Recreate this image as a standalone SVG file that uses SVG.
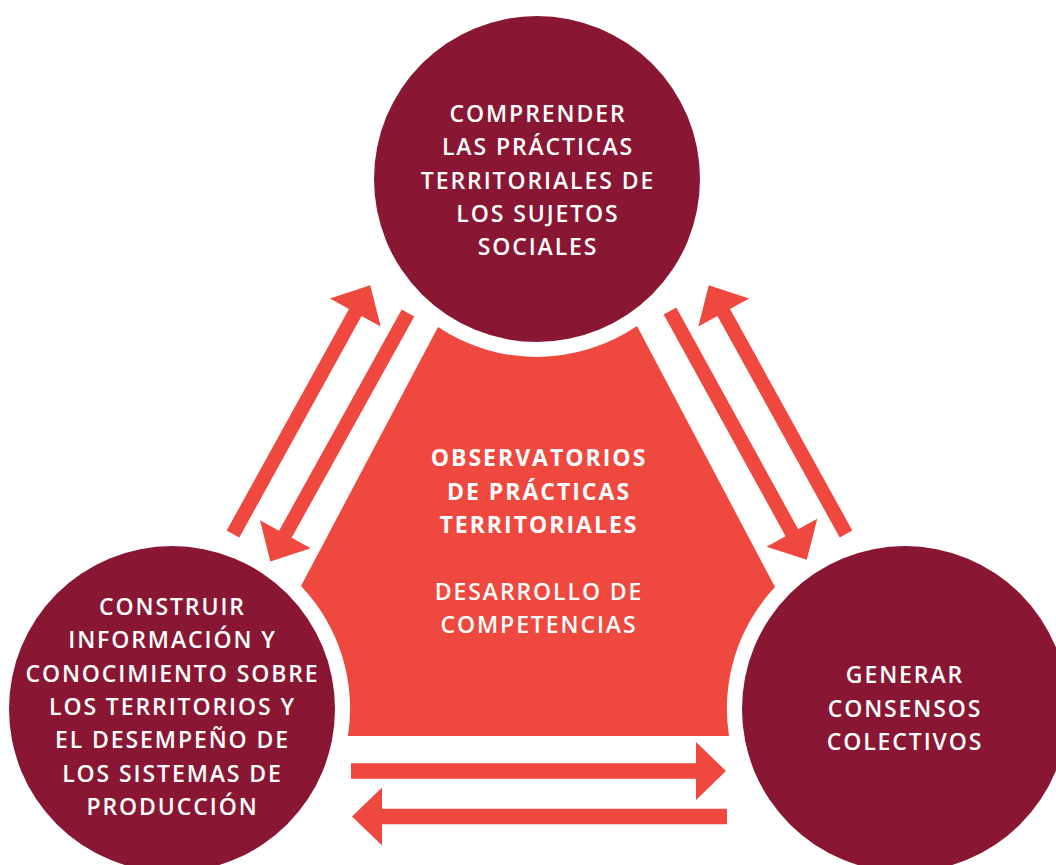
<svg xmlns="http://www.w3.org/2000/svg" width="1056" height="865" viewBox="0 0 1056 865">
  <style>
    .circ { fill: #891733; }
    .center { fill: #EF483E; }
    .arrow { fill: #EF483E; }
    .t { font-family: "Open Sans", "Liberation Sans", sans-serif; font-size: 23px; font-weight: 600; fill: #ffffff; text-anchor: middle; letter-spacing: 1.9px; }
    .tb { font-family: "Open Sans", "Liberation Sans", sans-serif; font-size: 23px; font-weight: bold; fill: #ffffff; text-anchor: middle; letter-spacing: 2px; }
  </style>
  <defs>
    <polygon id="diag" points="0,-7.2 253,-7.2 253,-29 284,0 253,29 253,7.2 0,7.2"/>
    <polygon id="horiz" points="0,-7.8 345,-7.8 345,-29 375,0 345,29 345,7.8 0,7.8"/>
  </defs>
  <rect width="1056" height="865" fill="#ffffff"/>

  <g id="center-node">
    <path class="center" d="M 438 327 A 178 178 0 0 0 637 326 L 775 587 A 178 178 0 0 0 729 736 L 348 736 A 178 178 0 0 0 301 586 Z"/>
    <text class="tb" x="539" y="466">OBSERVATORIOS</text>
    <text class="tb" x="539" y="499.5">DE PRÁCTICAS</text>
    <text class="tb" x="539" y="533">TERRITORIALES</text>
    <text class="t" x="539" y="600">DESARROLLO DE</text>
    <text class="t" x="539" y="633">COMPETENCIAS</text>
  </g>

  <g id="node-top">
    <circle class="circ" cx="537" cy="179" r="163"/>
    <text class="t" x="538" y="122">COMPRENDER</text>
    <text class="t" x="538" y="155.3">LAS PRÁCTICAS</text>
    <text class="t" x="538" y="188.6">TERRITORIALES DE</text>
    <text class="t" x="538" y="222">LOS SUJETOS</text>
    <text class="t" x="538" y="255.3">SOCIALES</text>
  </g>

  <g id="node-left">
    <circle class="circ" cx="172" cy="709" r="163"/>
    <text class="t" x="172.5" y="615">CONSTRUIR</text>
    <text class="t" x="172.5" y="648.3">INFORMACIÓN Y</text>
    <text class="t" x="172.5" y="681.7">CONOCIMIENTO SOBRE</text>
    <text class="t" x="172.5" y="715">LOS TERRITORIOS Y</text>
    <text class="t" x="172.5" y="748.3">EL DESEMPEÑO DE</text>
    <text class="t" x="172.5" y="781.7">LOS SISTEMAS DE</text>
    <text class="t" x="172.5" y="815">PRODUCCIÓN</text>
  </g>

  <g id="node-right">
    <circle class="circ" cx="905" cy="709" r="163"/>
    <text class="t" x="905" y="683.3">GENERAR</text>
    <text class="t" x="905" y="716.7">CONSENSOS</text>
    <text class="t" x="905" y="750">COLECTIVOS</text>
  </g>

  <g id="connectors">
    <use href="#diag" class="arrow" transform="translate(233,534) rotate(-61.1)"/>
    <use href="#diag" class="arrow" transform="translate(408,313) rotate(119)"/>
    <use href="#diag" class="arrow" transform="translate(670,311) rotate(61.2)"/>
    <use href="#diag" class="arrow" transform="translate(846,534) rotate(-118.9)"/>
    <use href="#horiz" class="arrow" transform="translate(351,771)"/>
    <use href="#horiz" class="arrow" transform="translate(727,816.5) rotate(180)"/>
  </g>
</svg>
